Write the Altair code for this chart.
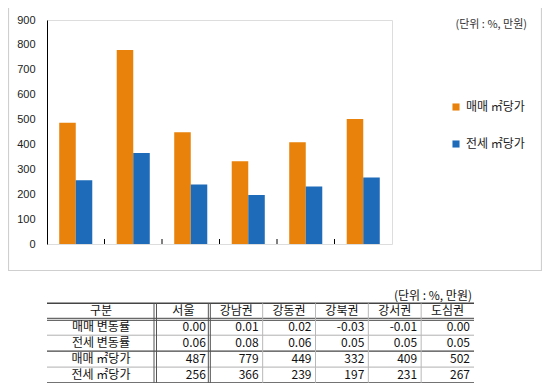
import altair as alt
import pandas as pd

# ---------------- data ----------------
regions = ["서울", "강남권", "강동권", "강북권", "강서권", "도심권"]
series = ["매매 ㎡당가", "전세 ㎡당가"]
sale_per_m2 = [487, 779, 449, 332, 409, 502]
jeonse_per_m2 = [256, 366, 239, 197, 231, 267]
sale_change = [0.00, 0.01, 0.02, -0.03, -0.01, 0.00]
jeonse_change = [0.06, 0.08, 0.06, 0.05, 0.05, 0.05]
row_labels = ["매매 변동률", "전세 변동률", "매매 ㎡당가", "전세 ㎡당가"]
header_label = "구분"
unit_label = "(단위 : %, 만원)"
y_ticks = [0, 100, 200, 300, 400, 500, 600, 700, 800, 900]

ORANGE = "#E8820A"
BLUE = "#1E6BBA"
FONT = "Liberation Sans, Noto Sans CJK KR"
KFONT = "Noto Sans CJK KR"

W, H = 345, 224

bars_df = pd.DataFrame({
    "지역": regions * 2,
    "구분": [series[0]] * len(regions) + [series[1]] * len(regions),
    "값": sale_per_m2 + jeonse_per_m2,
})

table_rows = []
for c in regions:
    table_rows.append({"행": header_label, "열": c, "txt": c, "kind": "h"})
for r, vals, fmt in [
    (row_labels[0], sale_change, "{:.2f}"),
    (row_labels[1], jeonse_change, "{:.2f}"),
    (row_labels[2], sale_per_m2, "{:d}"),
    (row_labels[3], jeonse_per_m2, "{:d}"),
]:
    for c, v in zip(regions, vals):
        table_rows.append({"행": r, "열": c, "txt": fmt.format(v), "kind": "v"})
table_df = pd.DataFrame(table_rows)
first_col_df = pd.DataFrame({"행": [header_label] + row_labels})

one = pd.DataFrame({"a": [0]})

# ---------------- chart part ----------------
x_scale = alt.Scale(domain=regions, paddingInner=0, paddingOuter=0)

frame = alt.Chart(one).mark_rect(filled=False, stroke="#cfcfcf", strokeWidth=1.2).encode(
    x=alt.value(-38.5), x2=alt.value(494.5), y=alt.value(-12.5), y2=alt.value(250.5)
)

bars = alt.Chart(bars_df).mark_bar().encode(
    x=alt.X("지역:N", sort=regions, scale=x_scale,
            axis=alt.Axis(title=None, labelAngle=0, ticks=False, domainColor="black",
                          labelFontSize=11, labelPadding=7, labelColor="#222", labelFont=KFONT)),
    xOffset=alt.XOffset("구분:N", sort=series,
                        scale=alt.Scale(domain=series, paddingOuter=0.74, paddingInner=0)),
    y=alt.Y("값:Q", scale=alt.Scale(domain=[0, 900], nice=False),
            axis=alt.Axis(title=None, values=y_ticks, ticks=False, grid=False, domainColor="black",
                          labelPadding=12, labelFontSize=11, labelColor="#222", labelFont=FONT)),
    color=alt.Color("구분:N", sort=series,
                    scale=alt.Scale(domain=series, range=[ORANGE, BLUE]),
                    legend=alt.Legend(title=None, orient="none", legendX=403, legendY=81,
                                      symbolType="square", symbolSize=50, symbolStrokeWidth=0,
                                      labelFontSize=12, labelFont=KFONT, labelColor="#222",
                                      rowPadding=25, labelOffset=4, padding=0)),
)

cat_ticks = alt.Chart(pd.DataFrame({"지역": regions[1:]})).mark_rule(color="black").encode(
    x=alt.X("지역:N", sort=regions, scale=x_scale, bandPosition=0, axis=None),
    y=alt.value(H - 5), y2=alt.value(H),
)

chart_unit = alt.Chart(one).mark_text(align="right", baseline="middle", fontSize=11,
                                      font=KFONT, color="#333").encode(
    x=alt.value(480), y=alt.value(5), text=alt.value(unit_label)
)

top = alt.layer(frame, bars, cat_ticks, chart_unit)

# ---------------- table part ----------------
T_TOP, T_BOT = 283.3, 362.8
T_LEFT, C1, T_RIGHT = 0, 110, 427
row_scale = alt.Scale(domain=[header_label] + row_labels, range=[T_TOP, T_BOT],
                      paddingInner=0, paddingOuter=0)
col_scale = alt.Scale(domain=regions, range=[C1, T_RIGHT], paddingInner=0, paddingOuter=0)
step = (T_RIGHT - C1) / len(regions)

table_head = alt.Chart(table_df).transform_filter("datum.kind == 'h'").mark_text(
    baseline="middle", align="center", fontSize=12, font=KFONT, color="#111").encode(
    x=alt.X("열:N", sort=regions, scale=col_scale, axis=None),
    y=alt.Y("행:N", scale=row_scale, axis=None),
    text="txt:N",
)
table_vals = alt.Chart(table_df).transform_filter("datum.kind == 'v'").mark_text(
    baseline="middle", align="right", dx=step / 2 - 4, fontSize=12, font=KFONT, color="#111").encode(
    x=alt.X("열:N", sort=regions, scale=col_scale, axis=None),
    y=alt.Y("행:N", scale=row_scale, axis=None),
    text="txt:N",
)
table_first = alt.Chart(first_col_df).mark_text(
    baseline="middle", align="center", fontSize=12, font=KFONT, color="#111").encode(
    x=alt.value(54),
    y=alt.Y("행:N", scale=row_scale, axis=None),
    text="행:N",
)
table_unit = alt.Chart(one).mark_text(align="right", baseline="middle", fontSize=12,
                                      font=KFONT, color="#111").encode(
    x=alt.value(425), y=alt.value(276), text=alt.value(unit_label)
)

def hline(y, color, w=1.0):
    return alt.Chart(one).mark_rule(color=color, strokeWidth=w).encode(
        x=alt.value(T_LEFT), x2=alt.value(T_RIGHT), y=alt.value(y))

def vline(x, color, w=1.0):
    return alt.Chart(one).mark_rule(color=color, strokeWidth=w).encode(
        x=alt.value(x), y=alt.value(T_TOP), y2=alt.value(T_BOT))

lines = [
    hline(T_TOP, "#444", 1.5),
    hline(298.3, "#444", 1), hline(300.3, "#444", 1),
    hline(315.2, "#b0b0b0", 1),
    hline(331.1, "#444", 1.3),
    hline(347.1, "#b0b0b0", 1),
    hline(T_BOT, "#444", 1.3),
    vline(C1 - 3, "#555", 1), vline(C1 - 0.5, "#555", 1),
    vline(C1 + step - 1.5, "#555", 1), vline(C1 + step + 0.5, "#555", 1),
]
for i in range(2, len(regions)):
    lines.append(vline(C1 + step * i, "#b8b8b8", 1))

table = alt.layer(*lines, table_head, table_vals, table_first, table_unit)

chart = alt.layer(top, table).resolve_scale(x="independent", y="independent").properties(
    width=W, height=H,
    autosize=alt.AutoSizeParams(type="none"),
    padding={"left": 39, "top": 12, "right": 150, "bottom": 139},
).configure_view(stroke="#808080", strokeWidth=1).configure(background="white")

chart.save("out.html", embed_options={"renderer": "svg", "actions": False})
